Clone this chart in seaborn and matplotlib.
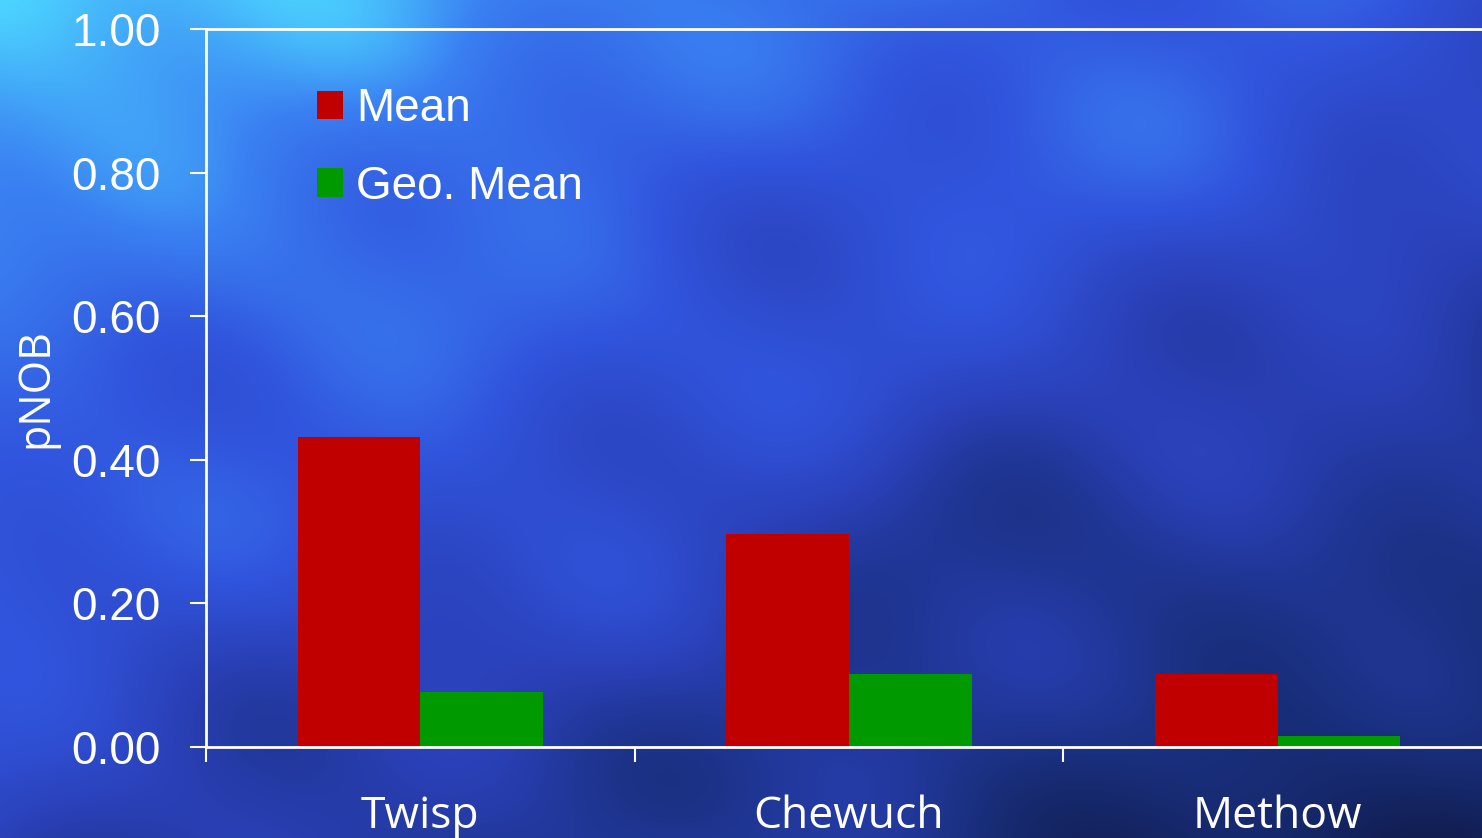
import numpy as np
import pandas as pd
import matplotlib
matplotlib.use("Agg")
import matplotlib.pyplot as plt
from matplotlib.colors import LinearSegmentedColormap
from matplotlib.patches import Patch
import seaborn as sns

# ---- data ----
sites = ["Twisp", "Chewuch", "Methow"]
mean_vals = [0.432, 0.297, 0.102]
geo_mean_vals = [0.077, 0.101, 0.015]
series_names = ["Mean", "Geo. Mean"]
series_colors = ["#C00000", "#009900"]
yticks = [0.0, 0.2, 0.4, 0.6, 0.8, 1.0]
ytick_labels = ["0.00", "0.20", "0.40", "0.60", "0.80", "1.00"]

df = pd.DataFrame({
    "site": sites * 2,
    "stat": [series_names[0]] * 3 + [series_names[1]] * 3,
    "value": mean_vals + geo_mean_vals,
})

sns.set_theme(style="white")
narrow = ["Liberation Sans Narrow", "Liberation Sans", "DejaVu Sans"]
humanist = ["Open Sans", "Noto Sans", "DejaVu Sans"]
plt.rcParams["font.family"] = narrow

W, H = 1482, 838
fig = plt.figure(figsize=(W / 100, H / 100), dpi=100)

# ---- background (smooth deterministic mottled blue) ----
bg = fig.add_axes([0, 0, 1, 1], zorder=-10)
yy, xx = np.mgrid[0:1:420j, 0:1:740j]
field = 1.0 - (0.6 * yy + 0.45 * xx)
field += 0.06 * np.sin(9 * xx + 3 * yy) * np.cos(7 * yy - 2 * xx)
field += 0.05 * np.sin(15 * yy + 5 * xx + 1.3) * np.sin(11 * xx - 4 * yy)
field += 0.04 * np.cos(21 * xx + 13 * yy + 0.7)
field += 0.04 * np.sin(27 * xx - 17 * yy + 2.1)
field = (field - field.min()) / (field.max() - field.min())
cmap = LinearSegmentedColormap.from_list(
    "bgblue", ["#121E52", "#1A3080", "#2A40B8", "#3155DE", "#3A80F2", "#4CD4FF"])
bg.imshow(field, cmap=cmap, aspect="auto", extent=[0, 1, 0, 1], origin="upper",
          interpolation="bicubic")
bg.set_axis_off()

# ---- main axes ----
ax = fig.add_axes([206 / W, 91 / H, 1286 / W, 718 / H])
ax.set_facecolor("none")
sns.barplot(data=df, x="site", y="value", hue="stat", hue_order=series_names,
            palette=series_colors, width=0.572, saturation=1, ax=ax,
            edgecolor="none", linewidth=0, legend=False)

ax.set_xlim(-0.5, 2.5)
ax.set_ylim(0, 1.0)
ax.set_yticks(yticks)
ax.set_yticklabels(ytick_labels)
ax.set_xlabel("")
ax.set_ylabel("")

for s in ["left", "bottom", "top"]:
    ax.spines[s].set_color("white")
    ax.spines[s].set_linewidth(2)
ax.spines["right"].set_visible(False)

ax.tick_params(axis="y", colors="white", length=11.5, width=1.5, pad=21,
               labelsize=33, direction="out", left=True)
ax.set_xticks([0, 1, 2])
ax.set_xticklabels(sites, fontfamily=humanist)
ax.set_xticks([-0.5, 0.5, 1.5], minor=True)
ax.tick_params(axis="x", which="major", length=0, pad=34, labelsize=32,
               colors="white", bottom=True)
ax.tick_params(axis="x", which="minor", length=11, width=1.5, colors="white",
               direction="out", bottom=True)

fig.text(36 / W, 1 - 388 / H, "pNOB", rotation=90, ha="center", va="center",
         color="white", fontsize=31, fontfamily=humanist)

handles = [Patch(facecolor=c, edgecolor="none") for c in series_colors]
leg = fig.legend(handles, series_names, loc="upper left",
                 bbox_to_anchor=(317 / W, 1 - 87 / H), frameon=False,
                 fontsize=33, handlelength=0.56, handleheight=0.58,
                 handletextpad=0.3, labelspacing=0.74, borderpad=0,
                 borderaxespad=0)
for t in leg.get_texts():
    t.set_color("white")

fig.savefig("out.png", dpi=100)
